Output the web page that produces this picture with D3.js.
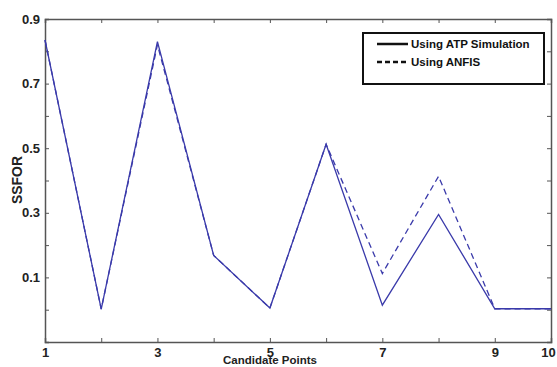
<!DOCTYPE html>
<html>
<head>
<meta charset="utf-8">
<script src="https://cdn.jsdelivr.net/npm/d3@7"></script>
<style>
  body { margin: 0; background: #fff; }
  text { font-family: "Liberation Sans", Arial, sans-serif; font-weight: bold; }
</style>
</head>
<body>
<div id="chart"></div>
<script>
// candidate points on the x axis
var points = [1, 2, 3, 4, 5, 6, 7, 8, 9, 10];
// SSFOR
var atpValues = [0.835, 0.002, 0.83, 0.168, 0.005, 0.512, 0.014, 0.295, 0.003, 0.003];
var anfisValues = [0.835, 0.002, 0.82, 0.168, 0.005, 0.512, 0.112, 0.413, 0.003, 0.003];
var xTickLabels = [1, 3, 5, 7, 9, 10];
var yTickLabels = [0.1, 0.3, 0.5, 0.7, 0.9];
var legendNames = ["Using ATP Simulation", "Using ANFIS"];

var W = 557, H = 367;
var margin = {top: 19, right: 6, bottom: 25, left: 45};
var width = W - margin.left - margin.right,
    height = H - margin.top - margin.bottom;

var svg = d3.select("#chart").append("svg")
    .attr("width", W).attr("height", H);
var g = svg.append("g")
    .attr("transform", "translate(" + margin.left + "," + margin.top + ")");

var x = d3.scaleLinear().domain([1, 10]).range([0, width]);
var y = d3.scaleLinear().domain([-0.1, 0.9]).range([height, 0]);

var axisColor = "#555";
var yTicks = d3.range(-0.1, 0.91, 0.1).map(function (d) { return +d.toFixed(1); });

// matlab style box: ticks inside on all four sides
function fmtY(d) {
    return yTickLabels.indexOf(d) >= 0 ? d3.format(".1f")(d) : "";
}
function fmtX(d) {
    return xTickLabels.indexOf(d) >= 0 ? d : "";
}

var axLeft = g.append("g").call(d3.axisLeft(y).tickValues(yTicks).tickSize(-4).tickPadding(5).tickFormat(fmtY));
var axRight = g.append("g").attr("transform", "translate(" + width + ",0)")
    .call(d3.axisRight(y).tickValues(yTicks).tickSize(-4).tickFormat(""));
var axBottom = g.append("g").attr("transform", "translate(0," + height + ")")
    .call(d3.axisBottom(x).tickValues(points).tickSize(-4).tickPadding(6).tickFormat(fmtX));
var axTop = g.append("g")
    .call(d3.axisTop(x).tickValues(points).tickSize(-4).tickFormat(""));

[axLeft, axRight, axBottom, axTop].forEach(function (a) {
    a.select(".domain").attr("stroke", axisColor).attr("stroke-width", 1.5);
    a.selectAll(".tick line").attr("stroke", axisColor);
    a.selectAll(".tick text").attr("fill", "#222").style("font-size", "13px");
});
// last label sits on the window edge
axBottom.selectAll(".tick text").filter(function (d) { return d === 10; })
    .attr("dx", "-3");

// the lines
var line = d3.line()
    .x(function (d, i) { return x(points[i]); })
    .y(function (d) { return y(d); });

g.append("path").datum(anfisValues)
    .attr("fill", "none").attr("stroke", "#3a3aaa")
    .attr("stroke-width", 1.3).attr("stroke-dasharray", "6,4")
    .attr("d", line);
g.append("path").datum(atpValues)
    .attr("fill", "none").attr("stroke", "#3a3aaa")
    .attr("stroke-width", 1.3)
    .attr("d", line);

// axis titles
svg.append("text")
    .attr("x", 270).attr("y", 364)
    .attr("text-anchor", "middle")
    .style("font-size", "11.5px").attr("fill", "#222")
    .text("Candidate Points");
svg.append("text")
    .attr("transform", "translate(22,180) rotate(-90)")
    .attr("text-anchor", "middle")
    .style("font-size", "14px").attr("fill", "#222")
    .text("SSFOR");

// legend
var legend = svg.append("g").attr("transform", "translate(363,33)");
legend.append("rect")
    .attr("width", 181).attr("height", 51)
    .attr("fill", "#fff").attr("stroke", "#111").attr("stroke-width", 2);
legendNames.forEach(function (name, i) {
    var ly = 11 + i * 18;
    legend.append("line")
        .attr("x1", 14).attr("x2", 45).attr("y1", ly).attr("y2", ly)
        .attr("stroke", "#111").attr("stroke-width", 2.5)
        .attr("stroke-dasharray", i === 1 ? "5,3" : null);
    legend.append("text")
        .attr("x", 48).attr("y", ly + 4)
        .style("font-size", "11.5px").attr("fill", "#111")
        .text(name);
});
</script>
</body>
</html>
